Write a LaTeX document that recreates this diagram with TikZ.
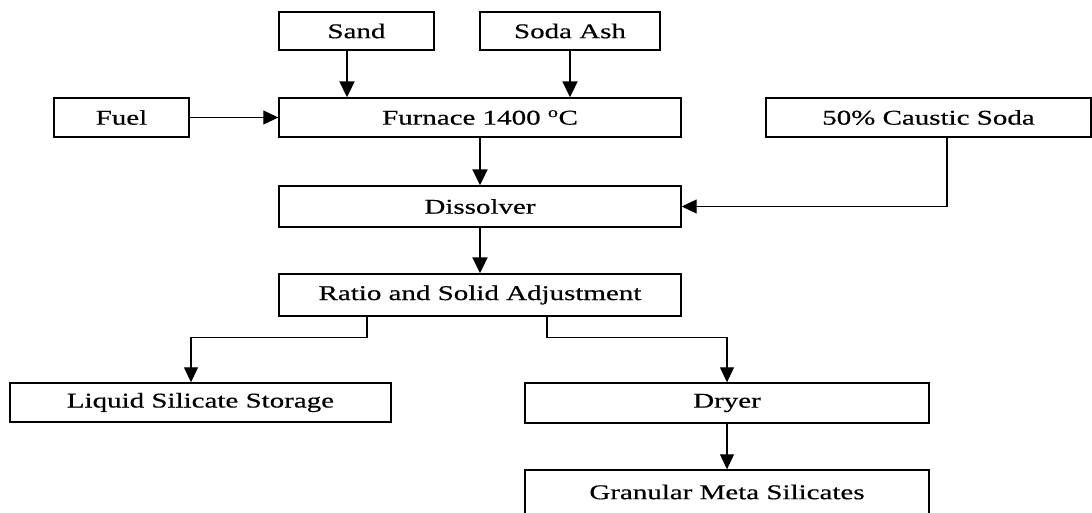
\documentclass[tikz,border=0pt]{standalone}
\usepackage{fontspec}
\setmainfont[FakeStretch=1.38,FakeBold=0.5]{Liberation Serif}
\usetikzlibrary{arrows.meta,calc}
\tikzset{
  box/.style={draw=black, line width=1.4pt, inner sep=0pt, anchor=center,
              font=\fontsize{21pt}{25pt}\selectfont},
  arr/.style={line width=2pt, -{Triangle[length=16pt,width=15pt]}},
  thinarr/.style={line width=1.1pt, -{Triangle[length=15pt,width=14pt]}},
}
\begin{document}
\begin{tikzpicture}[x=1pt,y=-1pt]
\useasboundingbox[fill=white] (0,0) rectangle (1092,513);
% boxes (centers and sizes in px)
\node[box, minimum width=155pt, minimum height=38pt] (sand) at (356.5,31) {Sand};
\node[box, minimum width=180pt, minimum height=38pt] (soda) at (570,31) {Soda Ash};
\node[box, minimum width=135pt, minimum height=39pt] (fuel) at (121.5,117.5) {Fuel};
\node[box, minimum width=402pt, minimum height=39pt] (furnace) at (480,117.5) {Furnace 1400 \textsuperscript{o}C};
\node[box, minimum width=325pt, minimum height=39pt] (caustic) at (928.5,117.5) {50\% Caustic Soda};
\node[box, minimum width=402pt, minimum height=41pt] (dissolver) at (480,206.5) {Dissolver};
\node[box, minimum width=402pt, minimum height=42pt] (ratio) at (480,295) {Ratio and Solid Adjustment};
\node[box, minimum width=381pt, minimum height=39pt] (liquid) at (200.5,402.5) {Liquid Silicate Storage};
\node[box, minimum width=404pt, minimum height=40pt] (dryer) at (727,403) {Dryer};
\node[box, minimum width=404pt, minimum height=44pt] (granular) at (727,492) {Granular Meta Silicates};
% connectors
\draw[arr] ([xshift=-9.5pt]sand.south) -- ([xshift=-9.5pt]sand.south |- furnace.north);
\draw[arr] (soda.south) -- (soda.south |- furnace.north);
\draw[thinarr] (fuel.east) -- (furnace.west);
\draw[arr] (furnace.south) -- (dissolver.north);
\draw[thinarr] ([xshift=18.5pt]caustic.south) |- (dissolver.east);
\draw[arr] (dissolver.south) -- (ratio.north);
\draw[thinarr] ([xshift=-113pt]ratio.south) -- ++(0,21) -| ([xshift=-9.5pt]liquid.north);
\draw[thinarr] ([xshift=67pt]ratio.south) -- ++(0,21) -| (dryer.north);
\draw[thinarr] (dryer.south) -- (granular.north);
\end{tikzpicture}
\end{document}
